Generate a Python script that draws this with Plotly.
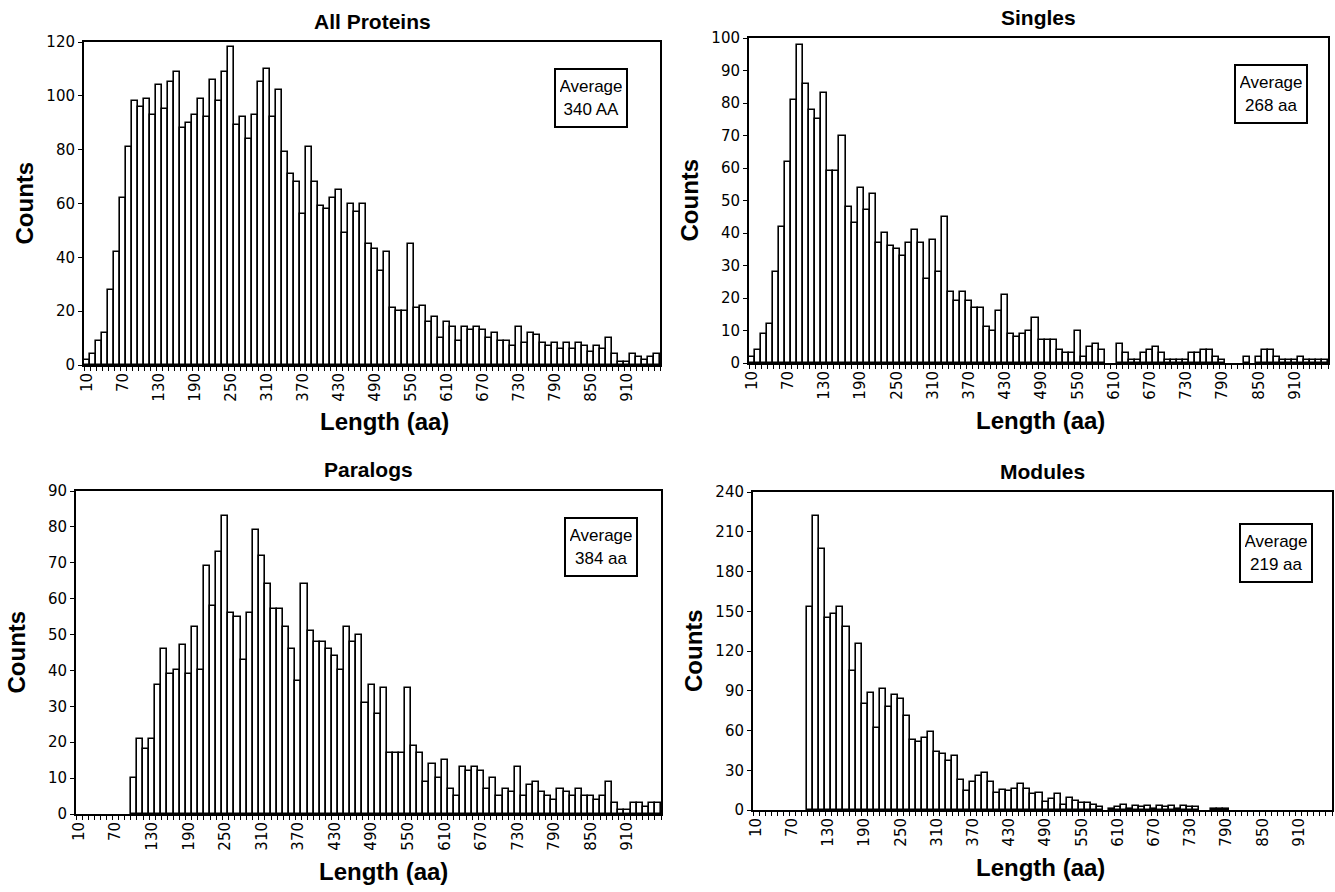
import plotly.graph_objects as go

lengths = list(range(10, 970, 10))  # 96 bins

all_proteins = [2, 4, 9, 12, 28, 42, 62, 81, 98, 96,
                99, 93, 104, 95, 105, 109, 88, 90, 93, 99,
                92, 106, 98, 109, 118, 89, 92, 84, 93, 105,
                110, 92, 102, 79, 71, 68, 56, 81, 68, 59,
                58, 62, 65, 49, 60, 57, 60, 45, 43, 35,
                42, 21, 20, 20, 45, 21, 22, 16, 18, 10,
                16, 14, 9, 14, 13, 14, 13, 10, 12, 9,
                9, 7, 14, 8, 12, 11, 8, 7, 8, 6,
                8, 6, 8, 7, 5, 7, 6, 10, 4, 1,
                1, 4, 3, 2, 3, 4]

singles = [2, 4, 9, 12, 28, 42, 62, 81, 98, 86,
           78, 75, 83, 59, 59, 70, 48, 43, 54, 47,
           52, 37, 40, 36, 35, 33, 37, 41, 37, 26,
           38, 28, 45, 22, 19, 22, 19, 17, 17, 11,
           10, 16, 21, 9, 8, 9, 10, 14, 7, 7,
           7, 4, 3, 3, 10, 2, 5, 6, 4, 0,
           0, 6, 3, 1, 1, 3, 4, 5, 3, 1,
           1, 1, 1, 3, 3, 4, 4, 2, 1, 0,
           0, 0, 2, 0, 2, 4, 4, 2, 1, 1,
           1, 2, 1, 1, 1, 1]

paralogs = [0, 0, 0, 0, 0, 0, 0, 0, 0, 10,
            21, 18, 21, 36, 46, 39, 40, 47, 39, 52,
            40, 69, 58, 73, 83, 56, 55, 43, 56, 79,
            72, 64, 57, 57, 52, 46, 37, 64, 51, 48,
            48, 46, 44, 40, 52, 48, 50, 31, 36, 28,
            35, 17, 17, 17, 35, 19, 17, 9, 14, 10,
            15, 7, 5, 13, 12, 13, 12, 7, 10, 5,
            7, 6, 13, 5, 8, 9, 6, 5, 4, 7,
            6, 5, 7, 5, 5, 4, 5, 9, 3, 1,
            1, 3, 3, 2, 3, 3]

modules = [0, 0, 0, 0, 0, 0, 0, 0, 0, 153,
           222, 197, 145, 148, 153, 138, 105, 125, 80, 88,
           62, 91, 78, 87, 84, 71, 53, 51, 54, 59,
           44, 42, 37, 41, 23, 14, 21, 26, 28, 21,
           13, 15, 14, 16, 20, 16, 12, 13, 6, 8,
           12, 4, 9, 7, 5, 5, 4, 2, 0, 1,
           2, 4, 1, 3, 2, 3, 1, 3, 2, 3,
           1, 3, 2, 2, 0, 0, 1, 1, 1, 0,
           0, 0, 0, 0, 0, 0, 0, 0, 0, 0,
           0, 0, 0, 0, 0, 0]

panels = [
    dict(title="All Proteins", values=all_proteins, ymax=120, dtick=20, avg="Average<br>340 AA",
         dom_x=(84, 660), dom_y=(42, 365), box=(591, 98), xt=384),
    dict(title="Singles", values=singles, ymax=100, dtick=10, avg="Average<br>268 aa",
         dom_x=(749, 1328), dom_y=(38, 363), box=(1271, 94), xt=1040),
    dict(title="Paralogs", values=paralogs, ymax=90, dtick=10, avg="Average<br>384 aa",
         dom_x=(76, 661), dom_y=(491, 814), box=(601, 547), xt=383),
    dict(title="Modules", values=modules, ymax=240, dtick=30, avg="Average<br>219 aa",
         dom_x=(753, 1332), dom_y=(492, 810), box=(1276, 553), xt=1040),
]

W, H = 1335, 892
FONT = "Arial, Liberation Sans, sans-serif"
TICKFONT = "DejaVu Sans, Verdana, sans-serif"

fig = go.Figure()
annotations = []
layout = {}
for i, p in enumerate(panels):
    n = "" if i == 0 else str(i + 1)
    yvals = [v if v > 0 else None for v in p["values"]]
    fig.add_trace(go.Bar(
        x=lengths, y=yvals, width=10,
        marker=dict(color="white", line=dict(color="black", width=1.6)),
        xaxis="x" + n, yaxis="y" + n, showlegend=False, hoverinfo="skip",
    ))
    x0, x1 = p["dom_x"]
    y0, y1 = p["dom_y"]
    layout["xaxis" + n] = dict(
        domain=[x0 / W, x1 / W], anchor="y" + n, range=[5, 965], automargin=False,
        tickmode="linear", tick0=10, dtick=60, tickangle=-90,
        ticks="", showgrid=False, zeroline=False,
        showline=True, linecolor="black", linewidth=2, mirror=True,
        tickfont=dict(family=TICKFONT, size=15, color="black"),
        minor=dict(ticks="outside", tickmode="linear", tick0=5, dtick=10,
                   ticklen=4, tickcolor="black", tickwidth=1, showgrid=False),
    )
    layout["yaxis" + n] = dict(
        domain=[1 - y1 / H, 1 - y0 / H], anchor="x" + n, range=[0, p["ymax"]], automargin=False,
        tickmode="linear", tick0=0, dtick=p["dtick"],
        ticks="outside", ticklen=4, tickcolor="black", tickwidth=1.2,
        showgrid=False, zeroline=False,
        showline=True, linecolor="black", linewidth=2, mirror=True,
        tickfont=dict(family=TICKFONT, size=15, color="black"),
    )
    cx = (x0 + x1) / 2
    annotations.append(dict(
        text="<b>" + p["title"] + "</b>", x=cx / W, y=1 - (y0 - 21) / H,
        xref="paper", yref="paper", showarrow=False,
        font=dict(family=FONT, size=21, color="black"), xanchor="center", yanchor="middle"))
    annotations.append(dict(
        text="<b>Length (aa)</b>", x=p["xt"] / W, y=1 - (y1 + 57) / H,
        xref="paper", yref="paper", showarrow=False,
        font=dict(family=FONT, size=24, color="black"), xanchor="center", yanchor="middle"))
    annotations.append(dict(
        text="<b>Counts</b>", x=(x0 - 60) / W, y=1 - ((y0 + y1) / 2) / H,
        xref="paper", yref="paper", showarrow=False, textangle=-90,
        font=dict(family=FONT, size=24, color="black"), xanchor="center", yanchor="middle"))
    bx, by = p["box"]
    annotations.append(dict(
        text=p["avg"], x=bx / W, y=1 - by / H,
        xref="paper", yref="paper", showarrow=False,
        font=dict(family=FONT, size=17, color="black"), xanchor="center", yanchor="middle",
        bordercolor="black", borderwidth=2, bgcolor="white", borderpad=4,
        width=62, height=48, align="center"))

fig.update_layout(
    width=W, height=H, margin=dict(l=0, r=0, t=0, b=0),
    paper_bgcolor="white", plot_bgcolor="white",
    bargap=0, annotations=annotations, **layout,
)
fig.write_html("out.html", config={"displayModeBar": False},
               post_script="document.body.style.margin='0';document.body.style.overflow='hidden';")
